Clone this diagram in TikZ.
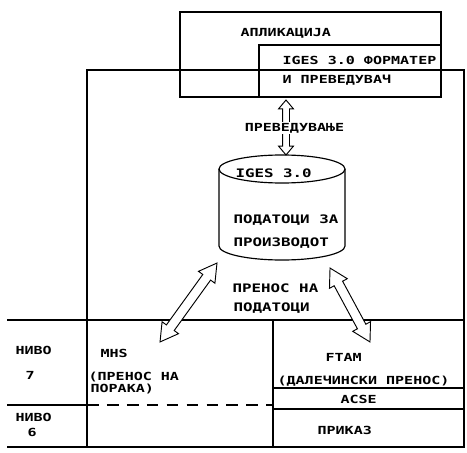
\documentclass[tikz,border=0pt]{standalone}
\usepackage{fontspec}
\newfontfamily\prnfont[FakeStretch=1.35]{DejaVu Sans Mono}
\usetikzlibrary{shapes.arrows,positioning}

\tikzset{
  lbl/.style={font={\prnfont\bfseries\fontsize{9.5}{11}\selectfont},inner sep=0pt,anchor=west},
  biglbl/.style={lbl,font={\prnfont\bfseries\fontsize{10}{12}\selectfont}},
  blockarr/.style={double arrow,draw,fill=white,line width=.8pt,inner xsep=0pt,inner ysep=.13cm,
    minimum width=.58cm,double arrow head extend=.16cm,double arrow tip angle=60},
  smallarr/.style={blockarr,inner ysep=.09cm,minimum width=.42cm,double arrow head extend=.12cm,double arrow tip angle=80}
}

\begin{document}
\begin{tikzpicture}[line width=1pt]
\useasboundingbox (0,0) rectangle (14.01,13.56);
% sistem i aplikacija
\draw (2.61,0.15) rectangle (13.92,11.46);
\draw (5.40,10.65) rectangle (13.23,13.20);
\draw (7.77,10.65) rectangle (13.23,12.21);
\node[lbl] (app) at (7.20,12.57) {АПЛИКАЦИЈА};
\node[lbl] (fmt) at (8.46,11.76) {IGES 3.0 ФОРМАТЕР};
\node[lbl] (prev) at (8.46,11.16) {И ПРЕВЕДУВАЧ};
% nivoa
\draw (0.21,3.96) -- (13.92,3.96);
\draw (0.21,0.15) -- (13.92,0.15);
\draw (0.21,1.41) -- (2.61,1.41);
\draw[dash pattern=on 10pt off 7pt] (2.61,1.41) -- (8.19,1.41);
\draw (8.19,3.96) -- (8.19,0.15);
\draw (8.19,1.92) -- (13.92,1.92);
\draw (8.19,1.29) -- (13.92,1.29);
\node[lbl] (n7) at (0.45,3.06) {НИВО};
\node[lbl] (n7b) at (0.75,2.31) {7};
\node[lbl] (n6) at (0.45,1.05) {НИВО};
\node[lbl] (n6b) at (0.81,0.60) {6};
\node[lbl] (mhs) at (3.00,2.97) {MHS};
\node[lbl] (mhs2) at (2.64,2.25) {(ПРЕНОС НА};
\node[lbl] (mhs3) at (2.70,1.90) {ПОРАКА)};
\node[lbl] (ftam) at (9.75,2.85) {FTAM};
\node[lbl] (ftam2) at (8.31,2.13) {(ДАЛЕЧИНСКИ ПРЕНОС)};
\node[lbl] (acse) at (10.20,1.58) {ACSE};
\node[lbl] (prikaz) at (9.51,0.66) {ПРИКАЗ};
% baza na podatoci
\draw (6.57,8.49) arc[start angle=180,end angle=0,x radius=1.89,y radius=.42]
  -- (10.35,6.18) arc[start angle=0,end angle=-180,x radius=1.89,y radius=.42] -- cycle;
\draw (6.57,8.49) arc[start angle=180,end angle=360,x radius=1.89,y radius=.42];
\node[biglbl] (iges) at (7.05,8.37) {IGES 3.0};
\node[biglbl] (pod) at (6.99,6.96) {ПОДАТОЦИ ЗА};
\node[biglbl] (proiz) at (6.99,6.27) {ПРОИЗВОДОТ};
\node[biglbl] (pren) at (6.96,4.92) {ПРЕНОС НА};
\node[biglbl] (pren2) at (6.99,4.32) {ПОДАТОЦИ};
% strelki
\coordinate (fmtbot) at (8.58,10.56);
\coordinate (dbtop) at (8.58,8.91);
\coordinate (dbleft) at (6.51,5.67);
\coordinate (dbright) at (9.90,5.52);
\coordinate (mhsin) at (4.80,3.30);
\coordinate (ftamin) at (11.10,3.30);
\path (fmtbot) -- (dbtop) node[smallarr,midway,sloped,minimum height=1.65cm] (atr) {};
\path (dbleft) -- (mhsin) node[blockarr,midway,sloped,minimum height=2.92cm] (amhs) {};
\path (dbright) -- (ftamin) node[blockarr,midway,sloped,minimum height=2.52cm] (aftam) {};
\node[lbl,fill=white,inner sep=1pt] (trans) at (7.29,9.72) {ПРЕВЕДУВАЊЕ};
\end{tikzpicture}
\end{document}
